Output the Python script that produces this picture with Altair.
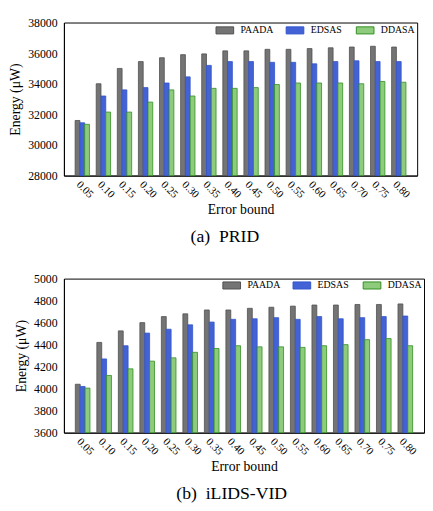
import altair as alt
import pandas as pd

categories = ["0.05", "0.10", "0.15", "0.20", "0.25", "0.30", "0.35", "0.40",
              "0.45", "0.50", "0.55", "0.60", "0.65", "0.70", "0.75", "0.80"]
series = ["PAADA", "EDSAS", "DDASA"]
captions = ["(a)\u00a0 PRID", "(b)\u00a0 iLIDS-VID"]

prid_paada = [31600, 34000, 35000, 35450, 35700, 35900, 35950, 36150,
              36150, 36250, 36250, 36300, 36350, 36400, 36450, 36400]
prid_edsas = [31450, 33200, 33600, 33750, 34050, 34450, 35200, 35450,
              35450, 35400, 35400, 35300, 35450, 35500, 35450, 35450]
prid_ddasa = [31350, 32150, 32150, 32800, 33600, 33200, 33700, 33700,
              33750, 33950, 34050, 34050, 34050, 34000, 34150, 34100]

ilids_paada = [4040, 4420, 4525, 4600, 4655, 4680, 4715, 4715,
               4730, 4740, 4750, 4760, 4760, 4765, 4765, 4770]
ilids_edsas = [4020, 4270, 4390, 4505, 4540, 4580, 4605, 4630,
               4635, 4645, 4630, 4655, 4635, 4645, 4655, 4660]
ilids_ddasa = [4005, 4120, 4180, 4250, 4280, 4330, 4365, 4390,
               4380, 4380, 4375, 4390, 4400, 4445, 4455, 4390]

prid_ticks = [28000, 30000, 32000, 34000, 36000, 38000]
ilids_ticks = [3600, 3800, 4000, 4200, 4400, 4600, 4800, 5000]

fills = ["#747474", "#4262d6", "#8fcb7c"]
strokes = ["#505050", "#3355cc", "#2f8f1f"]

SERIF = "Liberation Serif, Times New Roman, serif"


def make_df(a, b, c):
    rows = []
    for name, vals in zip(series, [a, b, c]):
        for cat, v in zip(categories, vals):
            rows.append({"eb": cat, "series": name, "value": v})
    return pd.DataFrame(rows)


def panel(df, ticks, w, h, caption, cap_x, leg_x0, leg_y):
    ymin, ymax = ticks[0], ticks[-1]
    fill_enc = alt.Fill("series:N", sort=series,
                        scale=alt.Scale(domain=series, range=fills), legend=None)
    stroke_enc = alt.Stroke("series:N", sort=series,
                            scale=alt.Scale(domain=series, range=strokes), legend=None)
    bars = alt.Chart(df).mark_bar(strokeWidth=0.8).encode(
        x=alt.X("eb:N", sort=categories,
                scale=alt.Scale(paddingInner=0.32, paddingOuter=0.53),
                axis=alt.Axis(title="Error bound", labelAngle=45,
                              labelAlign="left", labelBaseline="top",
                              ticks=False, labelPadding=3, titlePadding=3,
                              labelFont=SERIF, labelFontSize=11,
                              titleFont=SERIF, titleFontSize=14,
                              titleFontWeight="normal",
                              labelColor="black", titleColor="black",
                              domainColor="black")),
        xOffset=alt.XOffset("series:N", sort=series,
                            scale=alt.Scale(domain=series, paddingInner=0)),
        y=alt.Y("value:Q",
                scale=alt.Scale(domain=[ymin, ymax], zero=False, nice=False),
                axis=alt.Axis(title="Energy (μW)", values=ticks, ticks=False,
                              format="d",
                              grid=False, labelPadding=7, titlePadding=5,
                              labelFont=SERIF, labelFontSize=12,
                              titleFont=SERIF, titleFontSize=14,
                              titleFontWeight="normal",
                              labelColor="black", titleColor="black",
                              domainColor="black")),
        y2=alt.datum(ymin),
        fill=fill_enc,
        stroke=stroke_enc,
    )
    leg_df = pd.DataFrame({"series": series})
    leg_x = alt.X("series:N", sort=series,
                  scale=alt.Scale(type="point", domain=series, padding=0,
                                  range=[leg_x0, leg_x0 + 143]),
                  axis=None)
    swatch = alt.Chart(leg_df).mark_point(
        shape="M-1,-0.4H1V0.4H-1Z", size=324, filled=True, strokeWidth=1,
        opacity=1,
    ).encode(x=leg_x, y=alt.value(leg_y), fill=fill_enc, stroke=stroke_enc)
    labels = alt.Chart(leg_df).mark_text(
        font=SERIF, fontSize=10, color="black", align="left",
        baseline="middle", dx=16,
    ).encode(x=leg_x, y=alt.value(leg_y), text="series:N")
    cap = alt.Chart(pd.DataFrame({"caption": [caption]})).mark_text(
        font=SERIF, fontSize=18, color="black", align="center", baseline="middle"
    ).encode(
        x=alt.value(cap_x), y=alt.value(h + 63), text="caption:N"
    )
    return alt.layer(bars, swatch, labels, cap).resolve_scale(
        x="independent"
    ).properties(width=w, height=h)


top = panel(make_df(prid_paada, prid_edsas, prid_ddasa), prid_ticks,
            360, 156, captions[0], 164, 164, 8)
bottom = panel(make_df(ilids_paada, ilids_edsas, ilids_ddasa), ilids_ticks,
               367, 157, captions[1], 171, 171, 7)

chart = alt.vconcat(alt.hconcat(top), alt.hconcat(bottom), spacing=25).resolve_scale(
    x="independent", y="independent", xOffset="independent",
    fill="independent", stroke="independent"
).properties(
    padding={"left": 0, "top": 3, "right": 0, "bottom": 0}
).configure_view(stroke="black", strokeWidth=1)

chart.save("out.html", embed_options={"renderer": "svg", "actions": False})
